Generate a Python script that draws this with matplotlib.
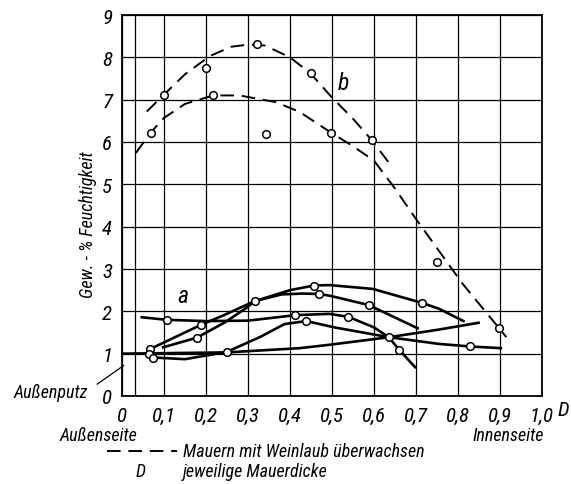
import matplotlib
matplotlib.use("Agg")
import matplotlib.pyplot as plt

plt.rcParams['font.family'] = ['Roboto Condensed', 'DejaVu Sans']
plt.rcParams['font.style'] = 'italic'

# ---- data ----
x_ticks = [0, 0.1, 0.2, 0.3, 0.4, 0.5, 0.6, 0.7, 0.8, 0.9, 1.0]
x_tick_labels = ['0', '0,1', '0,2', '0,3', '0,4', '0,5', '0,6', '0,7', '0,8', '0,9', '1,0']
y_ticks = [0, 1, 2, 3, 4, 5, 6, 7, 8, 9]

# dashed curves (Mauern mit Weinlaub überwachsen)
b_upper_x = [0.059, 0.10, 0.15, 0.209, 0.26, 0.30, 0.34, 0.40, 0.449, 0.50, 0.55, 0.595, 0.634]
b_upper_y = [6.72, 7.12, 7.60, 8.03, 8.25, 8.30, 8.28, 8.00, 7.62, 7.05, 6.55, 6.04, 5.53]
b_lower_x = [0.033, 0.068, 0.10, 0.15, 0.217, 0.28, 0.367, 0.423, 0.498, 0.55, 0.60, 0.65, 0.70, 0.748, 0.811, 0.898, 0.915]
b_lower_y = [5.74, 6.22, 6.57, 6.90, 7.10, 7.10, 6.94, 6.71, 6.22, 5.90, 5.56, 4.90, 4.18, 3.52, 2.65, 1.60, 1.39]
b_pts_x = [0.10, 0.20, 0.321, 0.449, 0.595, 0.068, 0.217, 0.342, 0.498, 0.749, 0.898]
b_pts_y = [7.12, 7.74, 8.31, 7.62, 6.04, 6.22, 7.12, 6.18, 6.22, 3.17, 1.60]

# solid curves
s_top_x = [0.098, 0.179, 0.245, 0.296, 0.316, 0.40, 0.457, 0.494, 0.597, 0.714, 0.755, 0.813]
s_top_y = [1.15, 1.38, 1.74, 2.08, 2.24, 2.50, 2.61, 2.62, 2.53, 2.20, 2.06, 1.77]
s_mid_x = [0.067, 0.188, 0.245, 0.316, 0.38, 0.43, 0.469, 0.494, 0.587, 0.704]
s_mid_y = [1.11, 1.68, 1.92, 2.24, 2.40, 2.42, 2.41, 2.37, 2.15, 1.60]
s_a_x = [0.047, 0.106, 0.20, 0.30, 0.413, 0.494, 0.539, 0.60, 0.635, 0.66, 0.698]
s_a_y = [1.86, 1.80, 1.77, 1.78, 1.91, 1.94, 1.87, 1.62, 1.39, 1.09, 0.68]
s_peak_x = [0.064, 0.074, 0.15, 0.249, 0.33, 0.387, 0.439, 0.506, 0.635, 0.755, 0.829, 0.902]
s_peak_y = [0.99, 0.91, 0.87, 1.04, 1.40, 1.70, 1.77, 1.62, 1.39, 1.23, 1.17, 1.13]
s_line_x = [0.0, 0.25, 0.423, 0.494, 0.637, 0.755, 0.849]
s_line_y = [1.00, 1.03, 1.13, 1.21, 1.39, 1.57, 1.73]
s_pts_x = [0.067, 0.064, 0.074, 0.106, 0.188, 0.179, 0.249, 0.316, 0.413, 0.439, 0.457, 0.469, 0.539, 0.587, 0.635, 0.66, 0.714, 0.829]
s_pts_y = [1.11, 0.99, 0.90, 1.80, 1.68, 1.38, 1.04, 2.24, 1.91, 1.77, 2.61, 2.41, 1.87, 2.15, 1.39, 1.09, 2.20, 1.17]

putz_x = 0.03

# ---- figure ----
W, H = 571, 485
fig = plt.figure(figsize=(W / 100, H / 100), dpi=100)
ax = fig.add_axes([122 / W, 1 - 397 / H, 420 / W, 381 / H])
ax.set_xlim(0, 1.0)
ax.set_ylim(0, 9)
ax.set_xticks(x_ticks)
ax.set_xticklabels(x_tick_labels)
ax.set_yticks(y_ticks)
ax.tick_params(length=0, labelsize=15, pad=7)
ax.tick_params(axis='x', pad=7)
for s in ax.spines.values():
    s.set_linewidth(1.3)
ax.grid(True, color='black', linewidth=0.9)
ax.set_axisbelow(True)
ax.axvline(putz_x, color='black', linewidth=0.9)

dash = dict(color='black', linewidth=1.4, linestyle=(0, (7, 4)))
ax.plot(b_upper_x, b_upper_y, **dash)
ax.plot(b_lower_x, b_lower_y, **dash)
solid = dict(color='black', linewidth=1.9, solid_joinstyle='round')
for xs, ys in [(s_top_x, s_top_y), (s_mid_x, s_mid_y), (s_a_x, s_a_y), (s_peak_x, s_peak_y), (s_line_x, s_line_y)]:
    ax.plot(xs, ys, **solid)
mk = dict(linestyle='none', marker='o', markersize=5.5, markerfacecolor='white',
          markeredgecolor='black', markeredgewidth=1.1, zorder=5)
ax.plot(b_pts_x, b_pts_y, **mk)
ax.plot(s_pts_x, s_pts_y, **mk)

ax.text(0.146, 2.37, 'a', fontsize=17, ha='center', va='center')
ax.text(0.528, 7.41, 'b', fontsize=17, ha='center', va='center')

# "D" after the last x tick label
fig.text(558 / W, 1 - 411 / H, 'D', fontsize=15, ha='left', va='center')

# Außenputz leader
ax.plot([-0.059, 0.004], [0.28, 0.72], color='black', linewidth=0.9, clip_on=False)
fig.text(51 / W, 1 - 393 / H, 'Außenputz', fontsize=13, ha='center', va='center')

fig.text(88 / W, 1 - 225 / H, 'Gew. - % Feuchtigkeit', fontsize=13, rotation=90, ha='center', va='center')

fig.text(98 / W, 1 - 436 / H, 'Außenseite', fontsize=13, ha='center', va='center')
fig.text(508 / W, 1 - 436 / H, 'Innenseite', fontsize=13, ha='center', va='center')

legend_y = 1 - 452 / H
fig.add_artist(plt.Line2D([107 / W, 177 / W], [legend_y, legend_y], color='black', linewidth=1.4,
                          linestyle=(0, (7, 4)), transform=fig.transFigure))
fig.text(183 / W, legend_y, 'Mauern mit Weinlaub überwachsen', fontsize=13, ha='left', va='center')
fig.text(141 / W, 1 - 472 / H, 'D', fontsize=13, ha='center', va='center')
fig.text(183 / W, 1 - 472 / H, 'jeweilige Mauerdicke', fontsize=13, ha='left', va='center')

fig.savefig('out.png', dpi=100, facecolor='white')
